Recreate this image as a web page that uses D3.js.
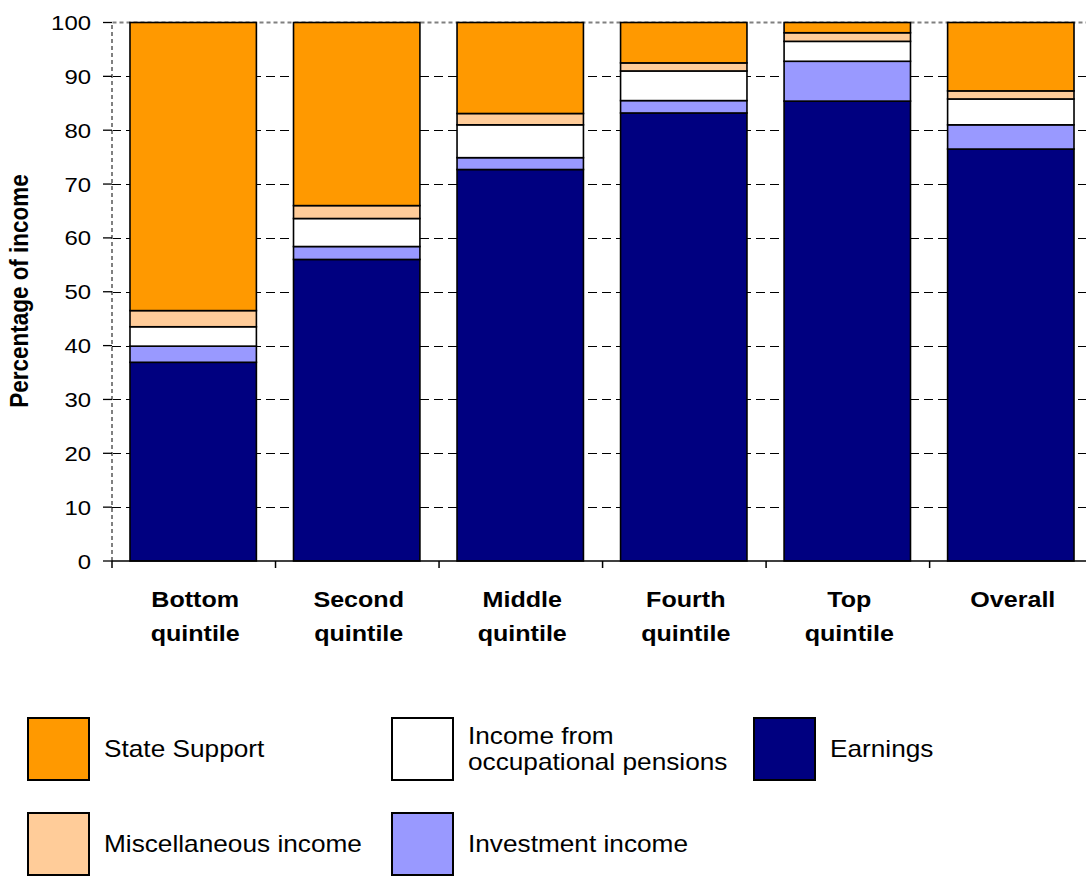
<!DOCTYPE html>
<html>
<head>
<meta charset="utf-8">
<script src="https://cdn.jsdelivr.net/npm/d3@7"></script>
<style>
  body { margin: 0; background: #fff; }
  text { font-family: Arial, "Liberation Sans", sans-serif; fill: #000; }
</style>
</head>
<body>
<script>
const categories = ['Bottom quintile', 'Second quintile', 'Middle quintile', 'Fourth quintile', 'Top quintile', 'Overall']
const seriesNames = ['Earnings', 'Investment income', 'Income from occupational pensions', 'Miscellaneous income', 'State Support']

// percentage of income, one array per series, same order as categories
const earnings   = [36.9, 56.0, 72.7, 83.2, 85.4, 76.5]
const investment = [3.0, 2.4, 2.2, 2.3, 7.4, 4.5]
const pensions   = [3.6, 5.2, 6.1, 5.5, 3.7, 4.8]
const misc       = [3.0, 2.4, 2.1, 1.5, 1.6, 1.5]
const state      = [53.5, 34.0, 16.9, 7.5, 1.9, 12.7]

const yTicks = [0, 10, 20, 30, 40, 50, 60, 70, 80, 90, 100]
const colors = ['#000080', '#9999ff', '#ffffff', '#ffcc99', '#ff9900']

// legend laid out in two rows, column by column
const legendOrder = ['State Support', 'Miscellaneous income', 'Income from occupational pensions', 'Investment income', 'Earnings']

const rows = categories.map(function (c, i) {
  return {
    cat: c,
    'Earnings': earnings[i],
    'Investment income': investment[i],
    'Income from occupational pensions': pensions[i],
    'Miscellaneous income': misc[i],
    'State Support': state[i]
  }
})

const stretch = 1.14 // the original picture is a bit wider than tall

var svg = d3.select('body')
  .append('svg')
  .attr('width', 1086)
  .attr('height', 877)

const xScale = d3.scaleBand().domain(categories).range([112, 1092]).paddingInner(0.227).paddingOuter(0.11)
const yScale = d3.scaleLinear().domain([0, 100]).range([561, 22.5])
const colorScale = d3.scaleOrdinal(seriesNames, colors)

const stack = d3.stack().keys(seriesNames)(rows)

// gridlines
svg.append('g')
  .selectAll('line')
  .data(yTicks.filter(function (d) { return d > 0 && d < 100 }))
  .enter()
  .append('line')
  .attr('x1', 112)
  .attr('x2', 1086)
  .attr('y1', function (d) { return Math.round(yScale(d)) + 0.5 })
  .attr('y2', function (d) { return Math.round(yScale(d)) + 0.5 })
  .attr('stroke', '#000')
  .attr('stroke-width', 1)
  .attr('stroke-dasharray', '9,5')

// plot area border (top + left), grey dashed
svg.append('path')
  .attr('d', 'M112,' + yScale(0) + 'V' + yScale(100) + 'H1086')
  .attr('fill', 'none')
  .attr('stroke', '#808080')
  .attr('stroke-width', 2)
  .attr('stroke-dasharray', '4,3')

// bars
svg.append('g')
  .selectAll('g')
  .data(stack)
  .enter()
  .append('g')
  .attr('fill', function (d) { return colorScale(d.key) })
  .selectAll('rect')
  .data(function (d) { return d })
  .enter()
  .append('rect')
  .attr('x', function (d) { return xScale(d.data.cat) })
  .attr('y', function (d) { return yScale(d[1]) })
  .attr('width', xScale.bandwidth())
  .attr('height', function (d) { return yScale(d[0]) - yScale(d[1]) })
  .attr('stroke', '#000')
  .attr('stroke-width', 1.6)

// x axis line + category ticks
svg.append('line')
  .attr('x1', 112).attr('x2', 1086)
  .attr('y1', yScale(0)).attr('y2', yScale(0))
  .attr('stroke', '#000')
  .attr('stroke-width', 1.5)

svg.append('g')
  .selectAll('line')
  .data(categories)
  .enter()
  .append('line')
  .attr('x1', function (d) { return xScale(d) - xScale.step() * xScale.paddingOuter() })
  .attr('x2', function (d) { return xScale(d) - xScale.step() * xScale.paddingOuter() })
  .attr('y1', yScale(0))
  .attr('y2', yScale(0) + 7)
  .attr('stroke', '#000')
  .attr('stroke-width', 1.5)

// y ticks + labels
var yAxis = svg.append('g')
yAxis.selectAll('line')
  .data(yTicks)
  .enter()
  .append('line')
  .attr('x1', 103)
  .attr('x2', 112)
  .attr('y1', function (d) { return yScale(d) })
  .attr('y2', function (d) { return yScale(d) })
  .attr('stroke', '#000')
  .attr('stroke-width', 1.3)

yAxis.selectAll('text')
  .data(yTicks)
  .enter()
  .append('text')
  .attr('transform', function (d) { return 'translate(91,' + yScale(d) + ') scale(' + stretch + ',1)' })
  .attr('text-anchor', 'end')
  .attr('dy', '0.36em')
  .style('font-size', '21px')
  .text(function (d) { return d })

// category labels, two lines each
svg.append('g')
  .selectAll('text')
  .data(categories)
  .enter()
  .append('text')
  .attr('transform', function (d) { return 'translate(' + (xScale(d) + xScale.bandwidth() / 2 + 2) + ',607) scale(' + stretch + ',1)' })
  .attr('text-anchor', 'middle')
  .style('font-size', '22px')
  .style('font-weight', 'bold')
  .each(function (d) {
    var words = d.split(' ')
    var t = d3.select(this)
    words.forEach(function (w, i) {
      t.append('tspan').attr('x', 0).attr('dy', i === 0 ? 0 : 34).text(w)
    })
  })

// y axis title
svg.append('text')
  .attr('transform', 'translate(28,291) scale(' + stretch + ',1) rotate(-90)')
  .attr('text-anchor', 'middle')
  .style('font-size', '22.5px')
  .style('font-weight', 'bold')
  .text('Percentage of income')

// legend
const legendCols = [28, 392, 754]
const legendRows = [718, 813]
var legend = svg.append('g')
  .selectAll('g')
  .data(legendOrder)
  .enter()
  .append('g')
  .attr('transform', function (d, i) {
    return 'translate(' + legendCols[Math.floor(i / 2)] + ',' + legendRows[i % 2] + ')'
  })

legend.append('rect')
  .attr('width', 61)
  .attr('height', 62)
  .attr('fill', function (d) { return colorScale(d) })
  .attr('stroke', '#000')
  .attr('stroke-width', 2)

legend.append('text')
  .attr('transform', 'translate(76,31) scale(' + stretch + ',1)')
  .style('font-size', '23px')
  .each(function (d) {
    var t = d3.select(this)
    var lines = d === 'Income from occupational pensions' ? ['Income from', 'occupational pensions'] : [d]
    lines.forEach(function (l, i) {
      t.append('tspan')
        .attr('x', 0)
        .attr('y', lines.length === 1 ? 0 : (i === 0 ? -13 : 13))
        .attr('dy', '0.36em')
        .text(l)
    })
  })
</script>
</body>
</html>
